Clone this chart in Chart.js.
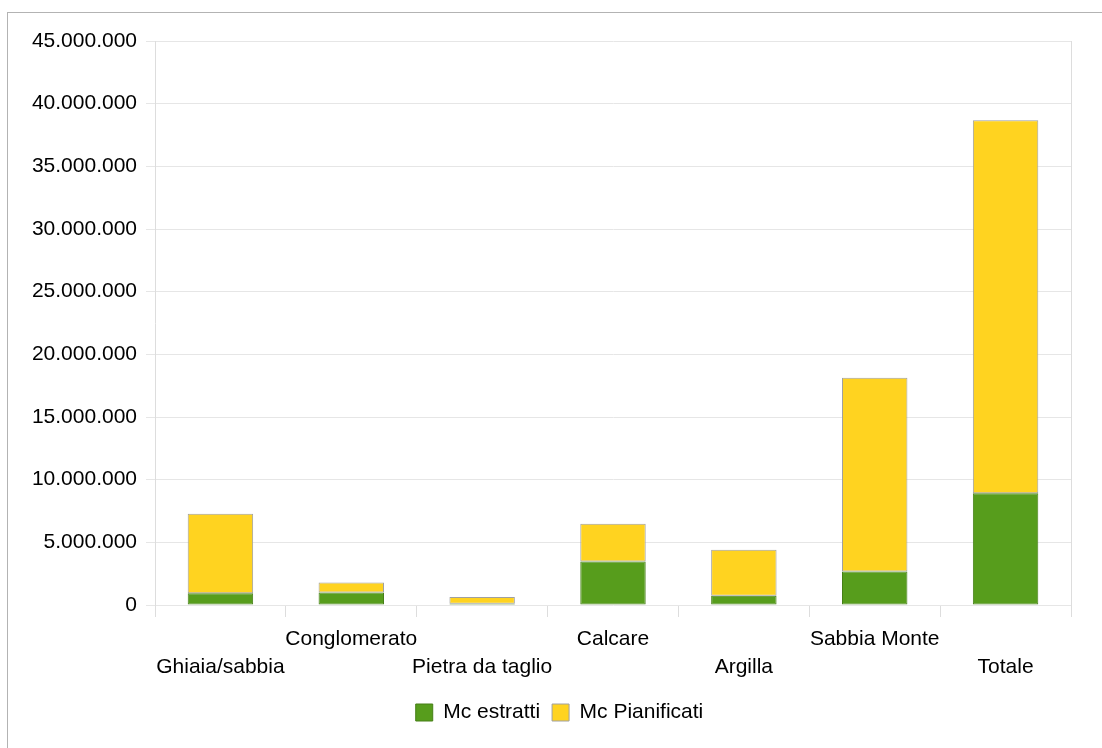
<!DOCTYPE html>
<html>
<head>
<meta charset="utf-8">
<script src="https://cdn.jsdelivr.net/npm/chart.js@4"></script>
<style>
    html, body { margin: 0; padding: 0; background: #fff; }
    #wrap { position: relative; width: 1102px; height: 748px; overflow: hidden; }
    #frame { position: absolute; left: 7px; top: 12px; width: 1200px; height: 800px;
             border-left: 1px solid #b3b3b3; border-top: 1px solid #b3b3b3; }
    #c { position: absolute; left: 0; top: 0; }
</style>
</head>
<body>
<div id="wrap">
    <div id="frame"></div>
    <canvas id="c" width="1102" height="748"></canvas>
</div>
<script>
const categories = ["Ghiaia/sabbia", "Conglomerato", "Pietra da taglio", "Calcare", "Argilla", "Sabbia Monte", "Totale"];
const mcEstratti = [930000, 1000000, 100000, 3470000, 740000, 2670000, 8910000];
const mcPianificati = [6360000, 790000, 540000, 3020000, 3660000, 15470000, 29760000];
const yTicks = [0, 5000000, 10000000, 15000000, 20000000, 25000000, 30000000, 35000000, 40000000, 45000000];

// labels alternate between two rows, like the original
const staggered = categories.map((c, i) => i % 2 === 1 ? [c, ""] : ["", c]);

function fmt(v) {
    return String(v).replace(/\B(?=(\d{3})+(?!\d))/g, ".");
}

const font = { family: "'Liberation Sans', Arial, sans-serif", size: 21, lineHeight: 1.333 };

// nudge the legend a bit to the right, as in the original
const legendShift = {
    id: "legendShift",
    afterLayout(chart) {
        chart.legend.left += 24;
        chart.legend.right += 24;
    }
};

new Chart(document.getElementById("c").getContext("2d"), {
    type: "bar",
    data: {
        labels: staggered,
        datasets: [{
            label: "Mc estratti",
            data: mcEstratti,
            backgroundColor: "#579d1c",
            borderColor: "#467f17",
            borderWidth: 1,
            borderSkipped: false
        }, {
            label: "Mc Pianificati",
            data: mcPianificati,
            backgroundColor: "#ffd320",
            borderColor: "#a0a0a0",
            borderWidth: 1,
            borderSkipped: false
        }]
    },
    plugins: [legendShift],
    options: {
        responsive: false,
        animation: false,
        layout: { padding: { left: 0, right: 31, top: 41, bottom: 15 } },
        datasets: { bar: { barPercentage: 0.5, categoryPercentage: 1 } },
        scales: {
            x: {
                stacked: true,
                grid: {
                    // only the outer right edge spans the plot; inner lines are just ticks
                    color: ctx => ctx.type === "tick" ? "rgba(0,0,0,0)" : "#dddddd",
                    tickColor: "#dddddd",
                    tickLength: 12,
                    offset: true
                },
                border: { display: false },
                ticks: { color: "#000", font: font, padding: 8, maxRotation: 0, autoSkip: false },
                afterFit: s => { s.height = 85; }
            },
            y: {
                stacked: true,
                min: 0,
                max: 45000000,
                afterBuildTicks: s => { s.ticks = yTicks.map(v => ({ value: v })); },
                grid: { color: "#e6e6e6", tickLength: 9 },
                border: { color: "#dddddd" },
                ticks: { color: "#000", font: font, padding: 9, callback: v => fmt(v) },
                afterFit: s => { s.width = 155; }
            }
        },
        plugins: {
            legend: {
                position: "bottom",
                labels: { color: "#000", font: font, boxWidth: 17, boxHeight: 17, padding: 12 }
            },
            tooltip: { enabled: false }
        }
    }
});
</script>
</body>
</html>
